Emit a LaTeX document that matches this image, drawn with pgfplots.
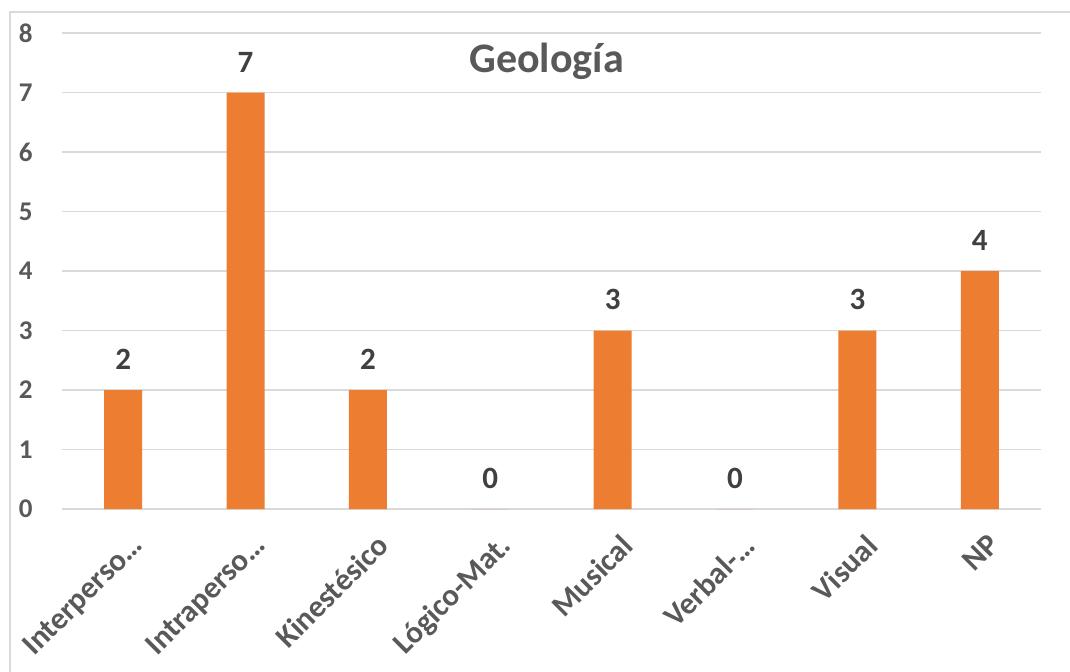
\documentclass[border=0pt]{standalone}
\usepackage{fontspec}
\setmainfont{Carlito}
\usepackage{pgfplots}
\pgfplotsset{compat=1.18}
\definecolor{barorange}{HTML}{ED7D31}
\definecolor{gridgray}{HTML}{D9D9D9}
\definecolor{ticktext}{HTML}{595959}
\definecolor{labeltext}{HTML}{404040}
\begin{document}
\begin{tikzpicture}
\useasboundingbox (0,0) rectangle (535pt,335.5pt);
\fill[white] (0,0) rectangle (535pt,335.5pt);
\draw[gridgray, line width=0.8pt] (5pt,-1pt) -- (5pt,329.5pt) -- (536pt,329.5pt);
\begin{axis}[
  at={(31pt,81pt)}, anchor=south west, scale only axis,
  width=489.5pt, height=238pt,
  xmin=-0.5, xmax=7.5, ymin=0, ymax=8,
  ytick={0,...,8}, xtick={0,...,7},
  xticklabels={Interperso…, Intraperso…, Kinestésico, Lógico-Mat., Musical, Verbal-…, Visual, NP},
  axis line style={draw=none}, major tick length=0pt,
  ymajorgrids, grid style={gridgray, line width=0.75pt},
  /pgf/number format/assume math mode=true,
  yticklabel style={font=\fontsize{13.5}{16}\selectfont\bfseries, text=ticktext, anchor=east, inner sep=0pt, xshift=-14.5pt},
  xticklabel style={font=\fontsize{15.5}{18}\selectfont\bfseries, text=ticktext, inner sep=0pt, xshift=3.5pt, yshift=-11.5pt, rotate=45, anchor=north east},
  ybar, bar width=19pt,
  clip=false,
]
\addplot[fill=barorange, draw=none,
  nodes near coords,
  nodes near coords style={font=\fontsize{15.5}{18}\selectfont\bfseries, text=labeltext, anchor=south, inner sep=0pt, yshift=10pt}]
  coordinates {(0,2) (1,7) (2,2) (3,0) (4,3) (5,0) (6,3) (7,4)};
\node[anchor=base, font=\fontsize{21}{25}\selectfont\bfseries, text=ticktext] at (rel axis cs:0.495,0.9175) {Geología};
\end{axis}
\end{tikzpicture}
\end{document}
